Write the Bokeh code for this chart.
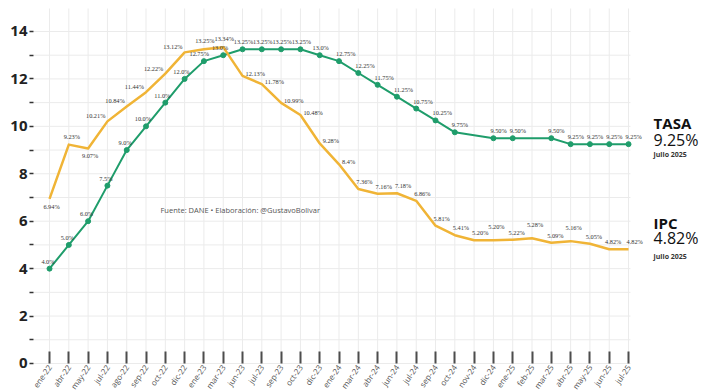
from bokeh.plotting import figure
from bokeh.models import ColumnDataSource, Range1d, FixedTicker, Label, LabelSet
from bokeh.embed import file_html
from bokeh.resources import INLINE

months = ["ene-22", "abr-22", "may-22", "jul-22", "ago-22", "sep-22", "oct-22", "dic-22",
          "ene-23", "mar-23", "jun-23", "jul-23", "sep-23", "oct-23", "dic-23",
          "ene-24", "mar-24", "abr-24", "jun-24", "jul-24", "sep-24", "oct-24", "nov-24", "dic-24",
          "ene-25", "feb-25", "mar-25", "abr-25", "may-25", "jun-25", "jul-25"]

ipc = [6.94, 9.23, 9.07, 10.21, 10.84, 11.44, 12.22, 13.12,
       13.25, 13.34, 12.13, 11.78, 10.99, 10.48, 9.28,
       8.4, 7.36, 7.16, 7.18, 6.86, 5.81, 5.41, 5.20, 5.20,
       5.22, 5.28, 5.09, 5.16, 5.05, 4.82, 4.82]
ipc_text = ["6.94%", "9.23%", "9.07%", "10.21%", "10.84%", "11.44%", "12.22%", "13.12%",
            "13.25%", "13.34%", "12.13%", "11.78%", "10.99%", "10.48%", "9.28%",
            "8.4%", "7.36%", "7.16%", "7.18%", "6.86%", "5.81%", "5.41%", "5.20%", "5.20%",
            "5.22%", "5.28%", "5.09%", "5.16%", "5.05%", "4.82%", "4.82%"]

tasa = [4.0, 5.0, 6.0, 7.5, 9.0, 10.0, 11.0, 12.0,
        12.75, 13.0, 13.25, 13.25, 13.25, 13.25, 13.0,
        12.75, 12.25, 11.75, 11.25, 10.75, 10.25, 9.75, None, 9.50,
        9.50, None, 9.50, 9.25, 9.25, 9.25, 9.25]
tasa_text = ["4.0%", "5.0%", "6.0%", "7.5%", "9.0%", "10.0%", "11.0%", "12.0%",
             "12.75%", "13.0%", "13.25%", "13.25%", "13.25%", "13.25%", "13.0%",
             "12.75%", "12.25%", "11.75%", "11.25%", "10.75%", "10.25%", "9.75%", "", "9.50%",
             "9.50%", "", "9.50%", "9.25%", "9.25%", "9.25%", "9.25%"]

y_ticks = list(range(0, 15))

GREEN = "#1f9d6b"
GOLD = "#f0b436"
LBL = "#333333"
GRID = "#ebebeb"

n = len(months)
xs = list(range(n))

# view extents
X0, X1 = -0.83, 34.04      # full frame (right part hosts the side notes)
GX1 = 30.1                 # where the grid stops
Y0, Y1 = -1.223, 15.307
GY1 = 14.97

# label placement styles (screen offsets)
ipc_align, ipc_dx, ipc_dy = [], [], []
for i in range(n):
    if i in (0, 2):
        a, dx, dy = "center", 2, -11
    elif i == 1:
        a, dx, dy = "center", 3, 5
    elif 3 <= i <= 7:
        a, dx, dy = "right", -2, 2
    elif i in (8, 9):
        a, dx, dy = "center", 1, 5
    elif 10 <= i <= 15:
        a, dx, dy = "left", 3, -1
    elif i in (23, 25, 27):
        a, dx, dy = "center", 3, 10
    elif 24 <= i <= 29:
        a, dx, dy = "center", 4, 4
    else:
        a, dx, dy = "left", -2, 4
    ipc_align.append(a); ipc_dx.append(dx); ipc_dy.append(dy)

tasa_align, tasa_dx, tasa_dy = [], [], []
for i in range(n):
    if i <= 9:
        a, dx = "right", 5
    elif i <= 14:
        a, dx = "center", 1
    else:
        a, dx = "left", -3
    tasa_align.append(a); tasa_dx.append(dx); tasa_dy.append(4)

p = figure(width=706, height=392, output_backend="svg", toolbar_location=None,
           x_range=Range1d(X0, X1), y_range=Range1d(Y0, Y1),
           min_border_left=33, min_border_right=0, min_border_top=0, min_border_bottom=0)
p.background_fill_color = "white"
p.border_fill_color = "white"
p.outline_line_color = None
p.xgrid.visible = False
p.ygrid.visible = False

# grid drawn only over the data area
p.segment(x0=xs, y0=[0] * n, x1=xs, y1=[GY1] * n, line_color=GRID, line_width=1)
p.segment(x0=[X0] * len(y_ticks), y0=y_ticks, x1=[GX1] * len(y_ticks), y1=y_ticks,
          line_color=GRID, line_width=1)

xt = FixedTicker(ticks=xs)
yt = FixedTicker(ticks=y_ticks)
p.xaxis.ticker = xt
p.yaxis.ticker = yt
p.xaxis.fixed_location = 0

p.xaxis.major_label_overrides = {i: m for i, m in enumerate(months)}
p.yaxis.major_label_overrides = {v: (str(v) if v % 2 == 0 else "") for v in y_ticks}

p.xaxis.axis_line_color = None
p.xaxis.major_tick_in = 12
p.xaxis.major_tick_out = 0
p.xaxis.major_tick_line_width = 2
p.xaxis.major_tick_line_color = "#4d4d4d"
p.xaxis.minor_tick_line_color = None
p.xaxis.major_label_orientation = 0.96
p.xaxis.major_label_text_font = "Open Sans"
p.xaxis.major_label_text_font_size = "8px"
p.xaxis.major_label_text_color = "#555555"
p.xaxis.major_label_standoff = 2

p.yaxis.axis_line_color = None
p.yaxis.major_tick_in = 0
p.yaxis.major_tick_out = 4
p.yaxis.major_tick_line_width = 1.5
p.yaxis.major_tick_line_color = "#333333"
p.yaxis.minor_tick_line_color = None
p.yaxis.major_label_text_font = "Open Sans"
p.yaxis.major_label_text_font_style = "bold"
p.yaxis.major_label_text_font_size = "15px"
p.yaxis.major_label_text_color = "#222222"
p.yaxis.major_label_standoff = 2

# TASA line (only months with a value)
tx = [i for i in xs if tasa[i] is not None]
ty = [tasa[i] for i in tx]
p.line(tx, ty, line_color=GREEN, line_width=2)

# IPC line
p.line(xs, ipc, line_color=GOLD, line_width=2.5, line_join="round")

p.scatter(tx, ty, size=5, fill_color=GREEN, line_color=GREEN)

ipc_src = ColumnDataSource(dict(x=xs, y=ipc, t=ipc_text, a=ipc_align, dx=ipc_dx, dy=ipc_dy))
p.add_layout(LabelSet(x="x", y="y", text="t", source=ipc_src, text_align="a",
                      x_offset="dx", y_offset="dy", text_baseline="bottom",
                      text_font="Open Sans", text_font_size="6.3px", text_color=LBL))

tasa_src = ColumnDataSource(dict(x=tx, y=ty, t=[tasa_text[i] for i in tx],
                                 a=[tasa_align[i] for i in tx], dx=[tasa_dx[i] for i in tx],
                                 dy=[tasa_dy[i] for i in tx]))
p.add_layout(LabelSet(x="x", y="y", text="t", source=tasa_src, text_align="a",
                      x_offset="dx", y_offset="dy", text_baseline="bottom",
                      text_font="Open Sans", text_font_size="6.3px", text_color=LBL))

p.add_layout(Label(x=5.75, y=6.49, text="Fuente: DANE • Elaboración: @GustavoBolivar",
                   text_font="Open Sans", text_font_size="7.5px", text_color="#555555",
                   text_baseline="middle"))

def side(x, y, txt, size, style, color="#111111"):
    p.add_layout(Label(x=x, y=y, text=txt, text_font="Open Sans", text_font_size=size,
                       text_font_style=style, text_color=color, text_baseline="middle"))

side(31.3, 10.14, "TASA", "15px", "bold")
side(31.3, 9.42, "9.25%", "16px", "normal")
side(31.3, 8.83, "julio 2025", "7px", "bold", "#333333")
side(31.3, 5.92, "IPC", "15px", "bold")
side(31.3, 5.29, "4.82%", "16px", "normal")
side(31.3, 4.52, "julio 2025", "7px", "bold", "#333333")

open("out.html", "w").write(file_html(p, INLINE))
